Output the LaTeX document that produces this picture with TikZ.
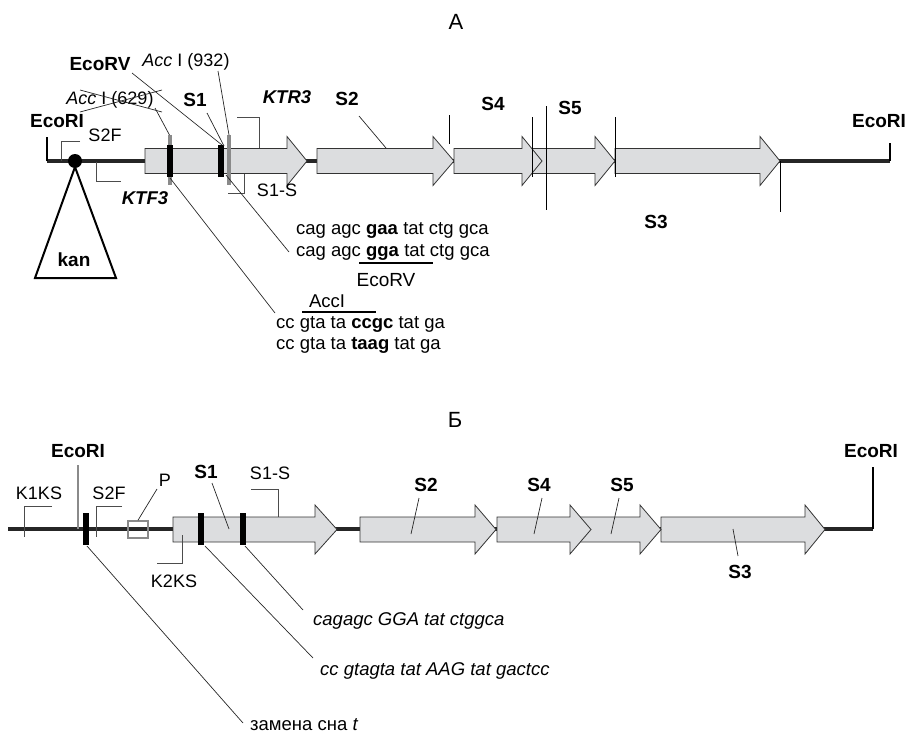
\documentclass[tikz,border=0pt]{standalone}
\usepackage{fontspec}
\setmainfont{Liberation Sans}
\usetikzlibrary{positioning}
\definecolor{orfgrey}{HTML}{DCDDDF}
\definecolor{markgrey}{HTML}{8A8A8A}
\tikzset{
  dna/.style    = {line width=4.5pt, black!85},
  orfbox/.style = {draw=black!80, line width=0.8pt, fill=orfgrey, line join=miter},
  lead/.style   = {line width=0.7pt, black!85},
  brack/.style  = {line width=0.9pt, black!70},
  tick/.style   = {line width=0.9pt, black},
  site/.style   = {line width=1.5pt, black},
  bar/.style    = {line width=6pt, black},
  gbar/.style   = {line width=4pt, markgrey},
  lbl/.style    = {font=\fontsize{18}{20}\selectfont, inner sep=0pt},
  blbl/.style   = {font=\fontsize{19}{21}\selectfont\bfseries, inner sep=0pt},
  bilbl/.style  = {font=\fontsize{18.5}{21}\selectfont\bfseries\itshape, inner sep=0pt},
  seq/.style    = {font=\fontsize{18.5}{21}\selectfont, inner sep=0pt, anchor=west},
  title/.style  = {font=\fontsize{22}{24}\selectfont, inner sep=0pt},
}
% block arrow: name, left, head start, apex, centre y
\newcommand\orf[5]{%
  \draw[orfbox] (#2,#5-12.5) -- (#3,#5-12.5) -- (#3,#5-24.5) -- (#4,#5)
    -- (#3,#5+24.5) -- (#3,#5+12.5) -- (#2,#5+12.5) -- cycle;
  \coordinate (#1) at (#2,#5);}

\begin{document}
\begin{tikzpicture}[x=1pt,y=-1pt]
  \useasboundingbox (0,0) rectangle (908,739);
  % ================= A =================
  \node[title] (tA) at (456,22) {А};
  \coordinate (aL) at (47,161);  \coordinate (aR) at (890,161);
  \draw[dna] (aL) -- (aR);
  \coordinate (aLe) at (47,137); \coordinate (aRe) at (890,143);
  \draw[site] (aL) -- (aLe);
  \draw[site] (aR) -- (aRe);
  \node[blbl] (eriA1) at (57,121) {EcoRI};
  \node[blbl] (eriA2) at (879,121) {EcoRI};
  % kanamycin insertion
  \coordinate (kanTop) at (75,167);
  \draw[line width=2pt, fill=white] (kanTop) -- (35,278) -- (116,278) -- cycle;
  \fill (75,161) circle (7);
  \node[blbl] (kan) at (74,260) {kan};
  % primers
  \draw[brack] (80,141) -- (61,141) -- (61,161);
  \node[lbl] (s2fA) at (105,135) {S2F};
  \draw[brack] (96,162) -- (96,181) -- (121,181);
  \node[bilbl] (ktf) at (145,198) {KTF3};
  \draw[brack] (237,117) -- (259,117) -- (259,148);
  \node[bilbl] (ktr) at (287,97) {KTR3};
  % genes
  \orf{a1}{145}{287}{307}{161}
  \orf{a2}{317}{433}{454}{161}
  \orf{a3}{615}{760}{780}{161}
  \orf{a5}{532}{595}{615}{161}
  \orf{a4}{454}{522}{542}{161}
  \draw[brack] (228,193) -- (244,193) -- (244,174);
  \node[lbl] (s1sA) at (277,190) {S1-S};
  % mutation sites
  \coordinate (accA) at (169.5,135); \coordinate (accB) at (229,135);
  \draw[gbar] (accA) -- (169.5,185);
  \draw[gbar] (accB) -- (229,185);
  \coordinate (mA) at (170,145); \coordinate (mB) at (221,145);
  \draw[bar] (mA) -- (170,177);
  \draw[bar] (mB) -- (221,177);
  % boundary ticks
  \draw[tick] (449,115) -- (449,144);
  \draw[tick] (532,117) -- (532,177);
  \draw[tick] (546,106) -- (546,210);
  \draw[tick] (615,117) -- (615,177);
  \draw[tick] (780,161) -- (780,212);
  % labels
  \node[blbl] (rvA) at (100,64) {EcoRV};
  \node[lbl] (acc932) at (186,62) {\textit{Acc} I (932)};
  \node[lbl] (acc629) at (110,100) {\textit{Acc} I (629)};
  \node[blbl] (s1A) at (195,100) {S1};
  \node[blbl] (s2A) at (347,99) {S2};
  \node[blbl] (s4A) at (493,104) {S4};
  \node[blbl] (s5A) at (570,108) {S5};
  \node[blbl] (s3A) at (656,222) {S3};
  % leaders
  \coordinate (rvEnd) at (132,73);   \coordinate (rvTip) at (222,145);
  \coordinate (a932e) at (218,71);   \coordinate (a629e) at (155,108);
  \coordinate (s1e) at (207,113);    \coordinate (s1t) at (224,146);
  \coordinate (s2e) at (359,116);    \coordinate (s2t) at (386,148);
  \draw[lead] (rvEnd) -- (rvTip);
  \draw[lead] (a932e) -- (accB);
  \draw[lead] (a629e) -- (accA);
  \draw[lead] (80,90) -- (162,112);
  \draw[lead] (80,112) -- (162,90);
  \draw[lead] (s1e) -- (s1t);
  \draw[lead] (s2e) -- (s2t);
  % sequences
  \node[seq] (qA1) at (296,230) {cag agc \textbf{gaa} tat ctg gca};
  \node[seq] (qA2) at (296,252) {cag agc \textbf{gga} tat ctg gca};
  \draw[line width=1.8pt] (359,263) -- (433,263);
  \node[lbl, font=\fontsize{19}{21}\selectfont] (rvB) at (386,280) {EcoRV};
  \node[lbl, font=\fontsize{18.5}{21}\selectfont] (accL) at (327,301) {AccI};
  \draw[line width=1.2pt] (302,312) -- (376,312);
  \node[seq] (qA3) at (276,324) {cc gta ta \textbf{ccgc} tat ga};
  \node[seq] (qA4) at (276,345) {cc gta ta \textbf{taag} tat ga};
  \coordinate (qA2w) at (289,252); \coordinate (qA3w) at (275,313);
  \draw[lead] (226,175) -- (qA2w);
  \draw[lead] (170,178) -- (qA3w);

  % ================= B =================
  \node[title] (tB) at (455,420) {Б};
  \coordinate (bL) at (8,529);  \coordinate (bR) at (873,529);
  \draw[dna] (bL) -- (bR);
  \coordinate (bRe) at (873,467);
  \draw[site] (bR) -- (bRe);
  \node[blbl] (eriB2) at (871,451) {EcoRI};
  \coordinate (bLe) at (78,465);
  \draw[site, markgrey] (78,529) -- (bLe);
  \node[blbl] (eriB1) at (78,451) {EcoRI};
  % primers
  \draw[brack] (52,506) -- (24,506) -- (24,537);
  \node[lbl] (k1ks) at (39,493) {K1KS};
  \draw[brack] (122,506) -- (96,506) -- (96,537);
  \node[lbl] (s2fB) at (109,493) {S2F};
  \draw[bar] (86,513) -- (86,545);
  % promoter
  \node[draw=markgrey, line width=1.5pt, minimum width=20pt, minimum height=17pt,
        inner sep=0pt] (pbox) at (138,529.5) {};
  \node[lbl] (plbl) at (165,480) {P};
  \coordinate (pe) at (157,489);
  \draw[lead] (pe) -- (pbox.north);
  % genes
  \orf{b1}{173}{315}{337}{529.5}
  \orf{b2}{360}{475}{496}{529.5}
  \orf{b3}{661}{805}{825}{529.5}
  \orf{b5}{578}{640}{661}{529.5}
  \orf{b4}{497}{570}{591}{529.5}
  \draw[bar] (201,513) -- (201,545);
  \draw[bar] (243,513) -- (243,545);
  \draw[brack] (251,489) -- (278,489) -- (278,517);
  \node[lbl] (s1sB) at (270,473) {S1-S};
  \draw[brack] (157,563) -- (182,563) -- (182,535);
  \node[lbl] (k2ks) at (174,581) {K2KS};
  % labels
  \node[blbl] (s1B) at (206,472) {S1};
  \node[blbl] (s2B) at (426,485) {S2};
  \node[blbl] (s4B) at (539,485) {S4};
  \node[blbl] (s5B) at (622,485) {S5};
  \node[blbl] (s3B) at (740,572) {S3};
  \draw[lead] (212,483) -- (229,529);
  \draw[lead] (419,498) -- (411,534);
  \draw[lead] (542,498) -- (534,534);
  \draw[lead] (619,498) -- (611,534);
  \draw[lead] (733,529) -- (738,556);
  % sequences
  \node[seq, font=\fontsize{18.5}{21}\selectfont\itshape] (qB1) at (313,621) {cagagc GGA tat ctggca};
  \node[seq, font=\fontsize{18.5}{21}\selectfont\itshape] (qB2) at (320,671) {cc gtagta tat AAG tat gactcc};
  \node[seq] (qB3) at (250,725) {замена сна \textit{t}};
  \coordinate (qB1w) at (303,610); \coordinate (qB2w) at (313,658); \coordinate (qB3w) at (243,723);
  \draw[lead] (245,546) -- (qB1w);
  \draw[lead] (205,546) -- (qB2w);
  \draw[lead] (87,546) -- (qB3w);
\end{tikzpicture}
\end{document}
